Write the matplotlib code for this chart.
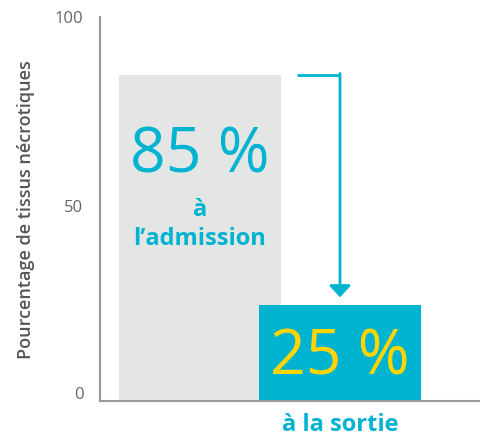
import matplotlib.pyplot as plt
import matplotlib.transforms as mtransforms

categories = ["admission", "sortie"]
values = [85, 25]
value_labels = ["85 %", "25 %"]
yticks = [0, 50, 100]

cyan = "#00B3D1"
grey_bar = "#E4E6E6"
yellow = "#FFD500"
font = "Open Sans"

fig = plt.figure(figsize=(4.8, 4.39), dpi=100)
ax = fig.add_axes([100 / 480, 1 - 402 / 439, 380 / 480, 384 / 439])

pos = [0, 1]
width = 162 / 140
ax.bar(pos, values, width=width, color=[grey_bar, cyan], zorder=1)
ax.set_xlim(-100 / 140, 2.0)
ax.set_ylim(0, 100)

for s in ["top", "right"]:
    ax.spines[s].set_visible(False)
for s in ["left", "bottom"]:
    ax.spines[s].set_color("#999999")
    ax.spines[s].set_linewidth(1.5)

ax.set_xticks([])
ax.set_yticks(yticks)
ax.set_yticklabels([str(t) for t in yticks], fontsize=12, color="#666666", family=font)
ax.tick_params(axis="y", length=0, pad=12)
# labels sit a bit above their ticks in the original
for lab, dy in zip(ax.get_yticklabels(), [9, 4, 1]):
    lab.set_transform(lab.get_transform() + mtransforms.ScaledTranslation(0, dy / 100, fig.dpi_scale_trans))
ax.set_ylabel("Pourcentage de tissus nécrotiques", fontsize=13, color="#555555",
              family=font, fontweight="semibold", labelpad=14)

# big numbers
ax.text(pos[0], 64, value_labels[0], ha="center", va="center", fontsize=45,
        color=cyan, family=font)
ax.text(pos[0], 50, "à", ha="center", va="center", fontsize=17,
        color=cyan, family=font, fontweight="bold")
ax.text(pos[0], 42.5, "l’admission", ha="center", va="center", fontsize=17,
        color=cyan, family=font, fontweight="bold")
ax.text(pos[1], 11.5, value_labels[1], ha="center", va="center", fontsize=45,
        color=yellow, family=font)
ax.text(pos[1], -6, "à la sortie", ha="center", va="center", fontsize=17,
        color=cyan, family=font, fontweight="bold", clip_on=False)

# connector arrow
x0 = pos[0] + 97 / 140
ax.plot([x0, pos[1]], [values[0], values[0]], color=cyan, lw=2, solid_capstyle="butt")
ax.annotate("", xy=(pos[1], values[1] + 2), xytext=(pos[1], values[0] + 0.3),
            arrowprops=dict(arrowstyle="-|>,head_length=0.7,head_width=0.65",
                            color=cyan, lw=2, shrinkA=0, shrinkB=0))

fig.savefig("out.png", dpi=100)
